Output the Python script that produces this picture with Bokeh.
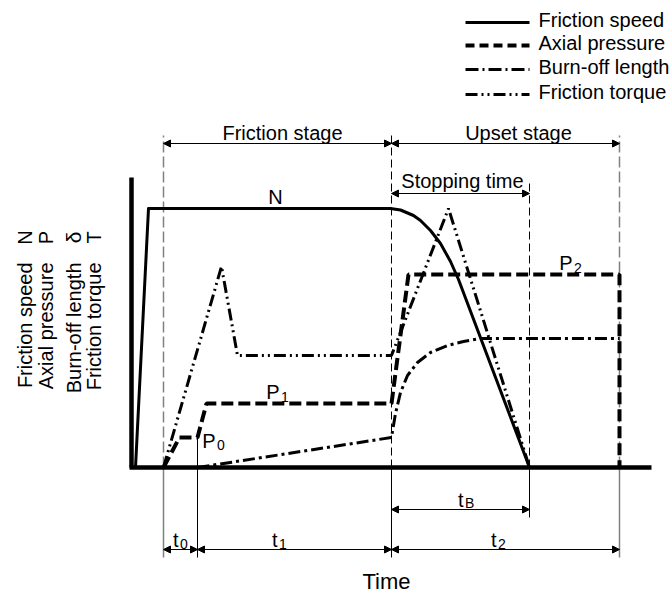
import math
from bokeh.plotting import figure
from bokeh.models import Range1d, Arrow, NormalHead
from bokeh.core.properties import value
from bokeh.embed import file_html
from bokeh.resources import INLINE

# ---------------- data (schematic, arbitrary units) ----------------
series = ["Friction speed", "Axial pressure", "Burn-off length", "Friction torque"]
symbols = ["N", "P", "δ", "T"]

# phase boundaries (time)
t_begin = 3.2
t_p0_end = 6.6
t_fric_end = 26.0
t_stop_end = 39.8
t_upset_end = 48.8

speed_t = [0.4, 1.7, 25.9, 26.9, 28.2, 28.9, 29.9, 30.9, 31.9, 32.7, 39.8]
speed_v = [0.0, 25.9, 25.9, 25.75, 25.2, 24.7, 23.7, 22.4, 20.6, 18.8, 0.0]

pressure_t = [3.2, 4.8, 6.6, 7.5, 26.0, 27.7, 48.8, 48.8]
pressure_v = [0.0, 3.0, 3.0, 6.4, 6.4, 19.3, 19.3, 0.0]

burnoff_t = [6.6, 26.0, 26.4, 26.9, 27.6, 28.6, 29.9, 31.6, 33.2, 34.9, 48.8]
burnoff_v = [0.0, 3.0, 5.4, 7.5, 9.2, 10.5, 11.5, 12.2, 12.6, 12.9, 12.9]

torque_t = [3.2, 9.0, 10.6, 26.0, 31.7, 39.8]
torque_v = [0.0, 20.1, 11.2, 11.2, 25.9, 0.0]

# ---------------- helpers (pixel -> data for annotation placement) --------
W, H = 672, 597
OX, OY = 131, 467
SC = 10.0


def sx(px):
    return (px - OX) / SC


def sy(py):
    return (OY - py) / SC


FONT = value("Liberation Sans")

p = figure(width=W, height=H, x_range=Range1d(sx(0), sx(W)), y_range=Range1d(sy(H), sy(0)),
           output_backend="svg", toolbar_location=None, min_border=0,
           x_axis_type=None, y_axis_type=None, outline_line_color=None)
p.background_fill_color = "white"
p.border_fill_color = "white"

# guide lines (dashed above axis, solid below)
top = sy(135)
below = sy(557)
p.segment(x0=[t_begin, t_upset_end], y0=[0, 0], x1=[t_begin, t_upset_end], y1=[top, top],
          line_color="#808080", line_width=1.5, line_dash="11 4")
p.segment(x0=[t_fric_end, t_stop_end], y0=[0, 0], x1=[t_fric_end, t_stop_end], y1=[top, sy(180)],
          line_color="black", line_width=1, line_dash="8 4")
p.segment(x0=[t_begin, t_upset_end], y0=[0, 0], x1=[t_begin, t_upset_end], y1=[below, below],
          line_color="#808080", line_width=1.5)
p.segment(x0=[t_p0_end, t_fric_end, t_stop_end], y0=[pressure_v[2], 0, 0],
          x1=[t_p0_end, t_fric_end, t_stop_end], y1=[below, below, sy(517)],
          line_color="black", line_width=1)

# curves
r_speed = p.line(speed_t, speed_v, line_color="black", line_width=3, line_join="round")
r_press = p.line(pressure_t, pressure_v, line_color="black", line_width=4, line_dash="12 5")
r_burn = p.line(burnoff_t, burnoff_v, line_color="black", line_width=3, line_dash="12 4 3 4")
r_torq = p.line(torque_t, torque_v, line_color="black", line_width=3, line_dash="12 4 2 4 2 4")

# axes lines
p.line([0, 0], [0, sy(177)], line_color="black", line_width=4.5)
p.line([sx(129), sx(651)], [0, 0], line_color="black", line_width=4.5)

# dimension arrows


def dim(x0, x1, y):
    p.add_layout(Arrow(start=NormalHead(size=7, fill_color="black", line_color="black", line_width=1),
                       end=NormalHead(size=7, fill_color="black", line_color="black", line_width=1),
                       x_start=x0, y_start=y, x_end=x1, y_end=y, line_width=1, line_color="black"))


dim(t_begin, t_fric_end, sy(143))
dim(t_fric_end, t_upset_end, sy(143))
dim(t_fric_end, t_stop_end, sy(193))
dim(t_fric_end, t_stop_end, sy(509))
dim(t_begin, t_p0_end, sy(549))
dim(t_p0_end, t_fric_end, sy(549))
dim(t_fric_end, t_upset_end, sy(549))

# texts


def txt(x, y, s, size="20px", align="center", baseline="middle", angle=0):
    p.text(x=[x], y=[y], text=[s], text_font=FONT, text_font_size=size, text_color="black",
           text_align=align, text_baseline=baseline, angle=angle)


txt(sx(282), sy(132), "Friction stage")
txt(sx(518), sy(132), "Upset stage")
txt(sx(462), sy(180), "Stopping time")
txt(sx(275), sy(196), "N")
txt(sx(386), sy(581), "Time", size="22px")

# subscripted labels: (main, sub, right edge of main, centre y of main, centre y of sub)
subs = [("P", "0", 215, 440, 444), ("P", "1", 279, 391, 396), ("P", "2", 572, 262, 267),
        ("t", "0", 178, 539, 543), ("t", "1", 277, 539, 543), ("t", "2", 496, 539, 543),
        ("t", "B", 463, 499, 502)]
for main, sub, xr, ym, ys in subs:
    txt(sx(xr), sy(ym), main, align="right")
    txt(sx(xr + 1.5), sy(ys), sub, size="14px", align="left")

# y-axis title (four rotated lines)
cols = [24, 45, 73, 93]
for name, sym, cx in zip(series, symbols, cols):
    txt(sx(cx), sy(262), name, align="right", angle=math.pi / 2)
    txt(sx(cx), sy(237), sym, size="21px" if sym == "δ" else "20px", align="center", angle=math.pi / 2)

# legend (drawn manually)
styles = [dict(line_width=3), dict(line_width=4, line_dash="9 5"),
          dict(line_width=3, line_dash="13 4 2 4"), dict(line_width=3, line_dash="12 4 2 4 2 4")]
rows = [22, 45, 69, 94]
for name, st, ry in zip(series, styles, rows):
    p.line([sx(465), sx(529)], [sy(ry), sy(ry)], line_color="black", **st)
    txt(sx(538), sy(ry - 3), name, align="left")

open("out.html", "w").write(file_html(p, INLINE))
